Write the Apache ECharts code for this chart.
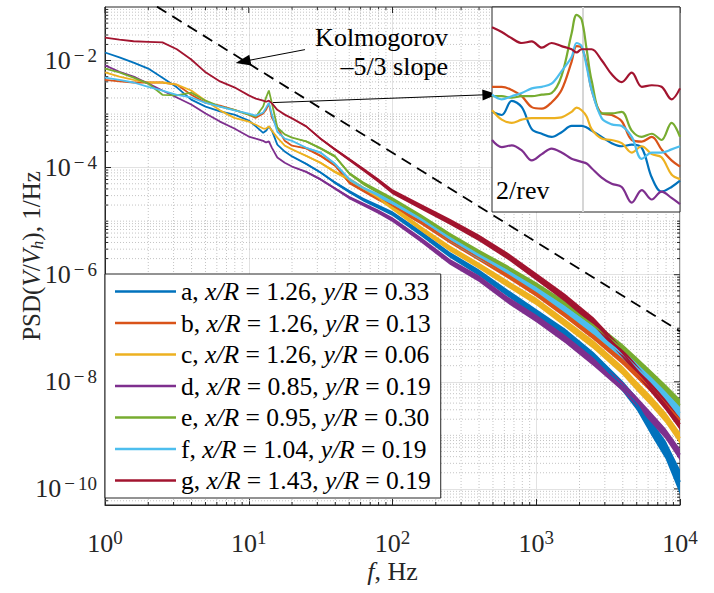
<!DOCTYPE html>
<html><head><meta charset="utf-8">
<script src="https://cdn.jsdelivr.net/npm/echarts@6/dist/echarts.min.js"></script>
<style>html,body{margin:0;padding:0;background:#fff}#c{width:714px;height:593px}</style>
</head><body><div id="c"></div>
<script>
// ---------- data ----------
const freqHz = [1, 1.26, 1.58, 2.0, 2.51, 3.16, 3.98, 5.01, 6.31, 7.94, 10, 11.2, 12.6, 13.2, 13.8, 14.5, 15.8, 17.8, 20, 25.1, 31.6, 39.8, 50.1, 63.1, 79.4, 100, 158, 251, 398, 631, 1000, 1585, 2512, 3981, 5012, 6310, 7943, 10000];
// log10 of PSD(V/Vh), 1/Hz
const psdExpA = [-1.85, -1.94, -2.04, -2.15, -2.32, -2.50, -2.73, -2.86, -2.95, -3.01, -3.12, -3.23, -3.35, -3.31, -3.23, -3.31, -3.57, -3.70, -3.79, -3.93, -4.09, -4.28, -4.45, -4.60, -4.73, -4.86, -5.23, -5.63, -5.96, -6.34, -6.71, -7.08, -7.53, -8.08, -8.41, -8.86, -9.27, -9.87];
const psdExpB = [-2.36, -2.39, -2.41, -2.41, -2.41, -2.45, -2.64, -2.79, -2.84, -2.92, -3.01, -3.07, -2.99, -2.92, -2.80, -3.07, -3.25, -3.50, -3.59, -3.64, -3.78, -3.96, -4.28, -4.43, -4.58, -4.71, -5.01, -5.36, -5.68, -6.00, -6.34, -6.73, -7.14, -7.59, -7.85, -8.11, -8.41, -8.71];
const psdExpC = [-2.22, -2.30, -2.36, -2.41, -2.41, -2.45, -2.56, -2.75, -2.93, -3.07, -3.14, -3.20, -3.27, -3.27, -3.23, -3.31, -3.44, -3.59, -3.66, -3.78, -3.91, -4.08, -4.22, -4.39, -4.56, -4.75, -5.14, -5.51, -5.83, -6.17, -6.50, -6.90, -7.31, -7.79, -8.08, -8.36, -8.67, -9.05];
const psdExpD = [-2.09, -2.21, -2.30, -2.43, -2.56, -2.69, -2.82, -2.99, -3.14, -3.27, -3.42, -3.46, -3.50, -3.53, -3.51, -3.63, -3.81, -3.91, -3.98, -4.08, -4.22, -4.39, -4.56, -4.69, -4.82, -4.97, -5.35, -5.76, -6.07, -6.47, -6.82, -7.20, -7.63, -8.09, -8.37, -8.67, -8.97, -9.36];
const psdExpE = [-2.15, -2.22, -2.32, -2.43, -2.64, -2.65, -2.60, -2.75, -2.86, -2.92, -3.01, -3.05, -2.86, -2.69, -2.56, -2.80, -3.25, -3.38, -3.44, -3.51, -3.64, -3.79, -4.11, -4.30, -4.45, -4.60, -4.92, -5.27, -5.59, -5.89, -6.21, -6.56, -6.95, -7.38, -7.63, -7.89, -8.15, -8.43];
const psdExpF = [-2.32, -2.36, -2.41, -2.49, -2.56, -2.64, -2.69, -2.79, -2.86, -2.93, -2.99, -3.03, -2.97, -2.88, -2.79, -3.01, -3.33, -3.46, -3.50, -3.63, -3.72, -3.93, -4.22, -4.39, -4.52, -4.67, -4.97, -5.33, -5.65, -5.94, -6.28, -6.65, -7.05, -7.48, -7.74, -8.00, -8.28, -8.58];
const psdExpG = [-1.57, -1.61, -1.64, -1.65, -1.66, -1.79, -1.98, -2.22, -2.39, -2.50, -2.65, -2.71, -2.75, -2.77, -2.75, -2.80, -2.92, -3.01, -3.08, -3.23, -3.46, -3.66, -3.85, -4.04, -4.24, -4.45, -4.73, -5.01, -5.31, -5.65, -6.04, -6.43, -6.88, -7.46, -7.78, -8.11, -8.43, -8.79];
// half-width of the noisy band (decades)
const bandSpread  = [0,0,0,0,0,0,0,0,0,0,0,0,0,0,0,0,0,0,0, 0.015, 0.02, 0.025, 0.03, 0.035, 0.04, 0.045, 0.05, 0.055, 0.06, 0.065, 0.07, 0.075, 0.08, 0.085, 0.09, 0.095, 0.1, 0.11];
const bandSpreadA = [0,0,0,0,0,0,0,0,0,0,0,0,0,0,0,0,0,0,0, 0.015, 0.02, 0.025, 0.03, 0.035, 0.04, 0.045, 0.05, 0.055, 0.06, 0.065, 0.07, 0.075, 0.08, 0.1, 0.12, 0.14, 0.17, 0.23];

const seriesNames = ['a', 'b', 'c', 'd', 'e', 'f', 'g'];
const xOverR = ['1.26', '1.26', '1.26', '0.85', '0.95', '1.04', '1.43'];
const yOverR = ['0.33', '0.13', '0.06', '0.19', '0.30', '0.19', '0.19'];

// inset (2/rev peak region)
const insetFreqHz = [11.0, 11.31, 11.63, 11.95, 12.27, 12.59, 12.90, 13.22, 13.54, 13.70, 13.86, 14.02, 14.18, 14.50, 14.82, 15.14, 15.46, 15.78, 16.10, 16.41, 16.73, 17.0];
const insetExpA = [-3.19, -3.21, -3.12, -3.16, -3.30, -3.33, -3.35, -3.32, -3.28, -3.28, -3.28, -3.29, -3.31, -3.35, -3.39, -3.41, -3.40, -3.42, -3.61, -3.70, -3.67, -3.63];
const insetExpB = [-3.03, -3.03, -3.05, -3.09, -3.16, -3.17, -3.13, -3.05, -2.87, -2.77, -2.78, -2.88, -3.05, -3.20, -3.21, -3.25, -3.37, -3.38, -3.35, -3.43, -3.50, -3.54];
const insetExpC = [-3.18, -3.24, -3.26, -3.24, -3.23, -3.23, -3.23, -3.225, -3.19, -3.163, -3.18, -3.22, -3.30, -3.36, -3.37, -3.39, -3.45, -3.41, -3.46, -3.48, -3.59, -3.62];
const insetExpD = [-3.37, -3.415, -3.404, -3.436, -3.50, -3.46, -3.425, -3.45, -3.49, -3.50, -3.51, -3.52, -3.55, -3.61, -3.65, -3.67, -3.77, -3.69, -3.75, -3.70, -3.74, -3.78];
const insetExpE = [-3.09, -3.09, -3.10, -3.09, -3.09, -3.08, -3.07, -2.96, -2.69, -2.57, -2.60, -2.79, -2.99, -3.20, -3.20, -3.19, -3.31, -3.35, -3.33, -3.37, -3.26, -3.35];
const insetExpF = [-3.08, -3.11, -3.09, -3.07, -3.04, -3.03, -3.01, -2.93, -2.84, -2.75, -2.77, -2.90, -3.05, -3.23, -3.27, -3.28, -3.35, -3.49, -3.45, -3.45, -3.43, -3.41];
const insetExpG = [-2.65, -2.68, -2.72, -2.75, -2.74, -2.78, -2.75, -2.77, -2.79, -2.81, -2.79, -2.79, -2.79, -2.86, -2.95, -3.00, -2.94, -3.03, -3.02, -3.03, -3.11, -3.04];
const insetRevLineHz = [13.9];

// Kolmogorov -5/3 reference line
const kolmoFreqHz = [2.3, 10000];
const kolmoPsd = [0.1016, 8.77e-8];

// annotation arrows [tailF, tailP, tipF, tipP]
const kolmoArrow = [24.6, 0.016, 9.12, 0.0096];
const peakArrow = [14.75, 1.64e-3, 476, 2.31e-3];
const revArrow = [12.91, 2.02e-4, 13.87, 2.02e-4];

const xMajorTicks = [1, 10, 100, 1000, 10000];
const yMajorTicks = [1e-10, 1e-8, 1e-6, 1e-4, 1e-2];
const xRange = [1, 10000];
const yRange = [5e-11, 0.1];
const insetXRange = [11, 17];
const insetYRange = [1.479e-4, 3.02e-3];

// ---------- chart ----------
const colors = ['#0072BD', '#D95319', '#EDB120', '#7E2F8E', '#77AC30', '#4DBEEE', '#A2142F'];
const mainExps = [psdExpA, psdExpB, psdExpC, psdExpD, psdExpE, psdExpF, psdExpG];
const insetExps = [insetExpA, insetExpB, insetExpC, insetExpD, insetExpE, insetExpF, insetExpG];
const spreads = [bandSpreadA, bandSpread, bandSpread, bandSpread, bandSpread, bandSpread, bandSpread];
const FONT = 'Liberation Serif';
const AX = '#262626';

function powLabel(v) {
  const e = Math.round(Math.log10(v));
  if (e < 0) return '{b|10}{m|\u2212}{s|' + (-e) + '}';
  return '{b|10}{s|' + e + '}';
}
const powRich = {
  b: { fontFamily: FONT, fontSize: 26, color: AX, lineHeight: 30, verticalAlign: 'middle' },
  m: { fontFamily: FONT, fontSize: 19, color: AX, lineHeight: 16, verticalAlign: 'top', padding: [0, 3, 0, 3] },
  s: { fontFamily: FONT, fontSize: 19, color: AX, lineHeight: 16, verticalAlign: 'top' }
};

// minor tick/grid positions (axis decoration)
const minorX = [];
for (let k = 0; k < 4; k++) for (let m = 2; m <= 9; m++) minorX.push(m * Math.pow(10, k));
const minorY = [];
for (let k = -11; k <= -2; k++) for (let m = 1; m <= 9; m++) {
  const v = m * Math.pow(10, k);
  if (v < yRange[0] || v > yRange[1]) continue;
  if (m === 1 && k % 2 === 0) continue;
  minorY.push(v);
}

function seg(x1, y1, x2, y2, style) { return { type: 'line', shape: { x1, y1, x2, y2 }, style }; }

const series = [];
series.push({
  type: 'custom', name: 'axes-decor', xAxisIndex: 0, yAxisIndex: 0, silent: true, z: 1, clip: false,
  data: [[10, 1e-5]],
  renderItem: function (params, api) {
    const tl = api.coord([xRange[0], yRange[1]]);
    const br = api.coord([xRange[1], yRange[0]]);
    const dot = { stroke: '#c4c4c4', lineWidth: 1, lineDash: [1, 2] };
    const tk = { stroke: AX, lineWidth: 1 };
    const ch = [];
    minorX.forEach(v => {
      const x = api.coord([v, yRange[0]])[0];
      ch.push(seg(x, tl[1], x, br[1], dot));
      ch.push(seg(x, br[1], x, br[1] - 3, tk));
      ch.push(seg(x, tl[1], x, tl[1] + 3, tk));
    });
    minorY.forEach(v => {
      const y = api.coord([xRange[0], v])[1];
      ch.push(seg(tl[0], y, br[0], y, dot));
      ch.push(seg(tl[0], y, tl[0] + 3, y, tk));
      ch.push(seg(br[0], y, br[0] - 3, y, tk));
    });
    xMajorTicks.forEach(v => {
      const x = api.coord([v, yRange[0]])[0];
      ch.push(seg(x, tl[1], x, tl[1] + 6, tk));
    });
    yMajorTicks.forEach(v => {
      const y = api.coord([xRange[0], v])[1];
      ch.push(seg(br[0], y, br[0] - 6, y, tk));
    });
    return { type: 'group', children: ch };
  }
});

seriesNames.forEach((nm, i) => {
  const exps = mainExps[i], sp = spreads[i];
  series.push({
    type: 'custom', name: nm + '-band', xAxisIndex: 0, yAxisIndex: 0, silent: true, z: 2, clip: true,
    data: [[100, 1e-5]],
    renderItem: function (params, api) {
      const up = [], lo = [];
      for (let j = 18; j < freqHz.length; j++) {
        up.push(api.coord([freqHz[j], Math.pow(10, exps[j] + sp[j])]));
        lo.unshift(api.coord([freqHz[j], Math.pow(10, exps[j] - sp[j])]));
      }
      return { type: 'polygon', shape: { points: up.concat(lo) }, style: { fill: colors[i] } };
    }
  });
  series.push({
    type: 'line', name: nm, xAxisIndex: 0, yAxisIndex: 0, z: 2,
    data: freqHz.map((f, j) => [f, Math.pow(10, exps[j])]),
    symbol: 'none', showSymbol: false, color: colors[i],
    lineStyle: { width: 1.8, color: colors[i] }
  });
});

series.push({
  type: 'line', name: 'kolmogorov', xAxisIndex: 0, yAxisIndex: 0, z: 3,
  data: kolmoFreqHz.map((f, j) => [f, kolmoPsd[j]]),
  symbol: 'none', lineStyle: { color: '#000', width: 1.8, type: [11, 7] },
  markLine: {
    silent: true, animation: false, symbol: ['none', 'triangle'], symbolSize: [11, 15],
    label: { show: false }, lineStyle: { type: 'solid', color: '#000', width: 1 },
    data: [
      [{ coord: [kolmoArrow[0], kolmoArrow[1]] }, { coord: [kolmoArrow[2], kolmoArrow[3]] }],
      [{ coord: [peakArrow[0], peakArrow[1]] }, { coord: [peakArrow[2], peakArrow[3]] }]
    ]
  }
});

seriesNames.forEach((nm, i) => {
  const s = {
    type: 'line', name: nm + '-inset', xAxisIndex: 1, yAxisIndex: 1, z: 12,
    data: insetFreqHz.map((f, j) => [f, Math.pow(10, insetExps[i][j])]),
    symbol: 'none', smooth: 0.35, clip: true,
    lineStyle: { width: 2.2, color: colors[i] }, color: colors[i]
  };
  if (i === 6) {
    s.markLine = {
      silent: true, animation: false, symbol: ['none', 'triangle'], symbolSize: [10, 14],
      label: { show: false }, lineStyle: { type: 'solid', color: '#000', width: 1 },
      data: [[{ coord: [revArrow[0], revArrow[1]] }, { coord: [revArrow[2], revArrow[3]] }]]
    };
  }
  series.push(s);
});

const txt = (text, x, y, align) => ({ type: 'text', x: x, y: y, z: 100,
  style: { text: '{t|' + text + '}', textAlign: align, textVerticalAlign: 'middle', align: align, verticalAlign: 'middle',
    rich: { t: { fontFamily: FONT, fontSize: 26, color: '#000', fill: '#000', lineHeight: 30 } } } });

const option = {
  animation: false,
  backgroundColor: '#fff',
  grid: [
    { left: 105, top: 7, width: 575, height: 498, show: true, borderColor: AX, borderWidth: 1, backgroundColor: '#fff',
      containLabel: false, outerBoundsMode: 'none' },
    { left: 492, top: 7, width: 188, height: 205, show: true, borderColor: AX, borderWidth: 1, backgroundColor: '#fff', z: 10,
      containLabel: false, outerBoundsMode: 'none' }
  ],
  xAxis: [
    {
      type: 'log', logBase: 10, gridIndex: 0, min: xRange[0], max: xRange[1],
      axisLine: { show: true, lineStyle: { color: AX, width: 1 } },
      axisTick: { show: true, inside: true, length: 6, lineStyle: { color: AX }, customValues: xMajorTicks },
      axisLabel: { show: true, margin: 23, customValues: xMajorTicks, formatter: powLabel, rich: powRich },
      splitLine: { show: true, lineStyle: { color: '#e2e2e2', width: 1 } },
      minorTick: { show: false }, minorSplitLine: { show: false },
      name: '{i|f}{n|, Hz}', nameLocation: 'middle', nameGap: 51, nameMoveOverlap: false,
      nameTextStyle: { fontFamily: FONT, fontSize: 26, color: AX, rich: {
        i: { fontFamily: FONT, fontSize: 26, fontStyle: 'italic', color: AX, lineHeight: 30, verticalAlign: 'middle' },
        n: { fontFamily: FONT, fontSize: 26, color: AX, lineHeight: 30, verticalAlign: 'middle' } } }
    },
    {
      type: 'value', gridIndex: 1, min: insetXRange[0], max: insetXRange[1], z: 11,
      axisLine: { show: false }, axisTick: { show: false, customValues: insetRevLineHz },
      axisLabel: { show: false, customValues: insetRevLineHz },
      splitLine: { show: true, lineStyle: { color: '#d6d6d6', width: 2 } }
    }
  ],
  yAxis: [
    {
      type: 'log', logBase: 10, gridIndex: 0, min: yRange[0], max: yRange[1],
      axisLine: { show: true, lineStyle: { color: AX, width: 1 } },
      axisTick: { show: true, inside: true, length: 6, lineStyle: { color: AX }, customValues: yMajorTicks },
      axisLabel: { show: true, margin: 8, customValues: yMajorTicks, formatter: powLabel, rich: powRich },
      splitLine: { show: true, lineStyle: { color: '#e2e2e2', width: 1 } },
      minorTick: { show: false }, minorSplitLine: { show: false },
      name: '{n|PSD(}{i|V}{n|/}{i|V}{sub|h}{n|), 1/Hz}', nameLocation: 'middle', nameRotate: 90, nameGap: 59, nameMoveOverlap: false,
      nameTextStyle: { fontFamily: FONT, fontSize: 25, color: AX, rich: {
        n: { fontFamily: FONT, fontSize: 25, color: AX, lineHeight: 30, verticalAlign: 'middle' },
        i: { fontFamily: FONT, fontSize: 25, fontStyle: 'italic', color: AX, lineHeight: 30, verticalAlign: 'middle' },
        sub: { fontFamily: FONT, fontSize: 17, fontStyle: 'italic', color: AX, lineHeight: 14, verticalAlign: 'bottom' } } }
    },
    {
      type: 'log', logBase: 10, gridIndex: 1, min: insetYRange[0], max: insetYRange[1], z: 11,
      axisLine: { show: false }, axisTick: { show: false }, axisLabel: { show: false }, splitLine: { show: false }
    }
  ],
  legend: {
    data: seriesNames, orient: 'vertical', left: 105, top: 274, icon: 'rect',
    itemWidth: 61, itemHeight: 2.5, itemGap: 4.5, padding: [4, 10, 4, 10],
    borderColor: AX, borderWidth: 1, backgroundColor: '#fff', selectedMode: false,
    formatter: function (name) {
      const i = seriesNames.indexOf(name);
      return '{n|' + name + ', }{i|x/R}{n| = ' + xOverR[i] + ', }{i|y/R}{n| = ' + yOverR[i] + '}';
    },
    textStyle: { fontFamily: FONT, fontSize: 25.5, color: '#000', lineHeight: 27, rich: {
      n: { fontFamily: FONT, fontSize: 25.5, color: '#000', lineHeight: 27, verticalAlign: 'middle' },
      i: { fontFamily: FONT, fontSize: 25.5, fontStyle: 'italic', color: '#000', lineHeight: 27, verticalAlign: 'middle' } } }
  },
  graphic: [
    txt('Kolmogorov', 448, 37, 'right'),
    txt('\u20135/3 slope', 448, 66, 'right'),
    txt('2/rev', 496, 190, 'left')
  ],
  series: series
};

const chart = echarts.init(document.getElementById('c'), null, { renderer: 'svg' });
chart.setOption(option);
</script>
</body></html>
